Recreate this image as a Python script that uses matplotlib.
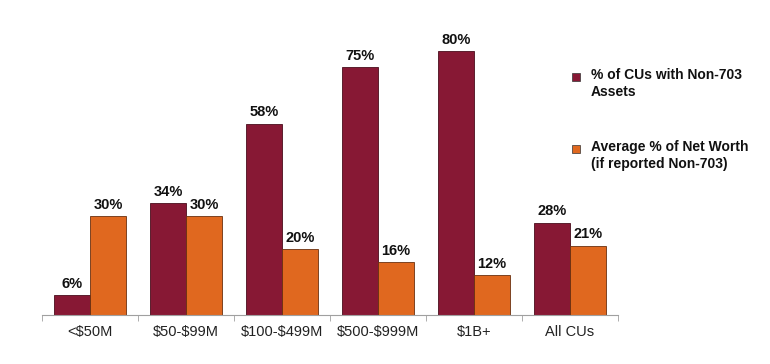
import numpy as np
import matplotlib.pyplot as plt
from matplotlib.patches import Rectangle

plt.rcParams['font.family'] = ['Liberation Sans', 'DejaVu Sans']
plt.rcParams['text.parse_math'] = False

categories = ['<$50M', '$50-$99M', '$100-$499M', '$500-$999M', '$1B+', 'All CUs']
pct_non703 = [6, 34, 58, 75, 80, 28]
avg_net_worth = [30, 30, 20, 16, 12, 21]
series_names = ['% of CUs with Non-703\nAssets', 'Average % of Net Worth\n(if reported Non-703)']

c1 = '#871834'
c2 = '#E0681F'

fig = plt.figure(figsize=(7.7, 3.64), dpi=100)
ax = fig.add_axes([0.0545, 0.1346, 0.748, 0.816])

x = np.arange(len(categories))
w = 0.375
b1 = ax.bar(x - w / 2, pct_non703, w, color=c1, edgecolor='#4a0d1c', linewidth=0.6)
b2 = ax.bar(x + w / 2, avg_net_worth, w, color=c2, edgecolor='#6a3010', linewidth=0.6)

for bars, vals in [(b1, pct_non703), (b2, avg_net_worth)]:
    for r, v in zip(bars, vals):
        ax.text(r.get_x() + r.get_width() / 2, v + 1.3, f'{v}%', ha='center', va='bottom',
                fontsize=10.5, fontweight='bold', color='#111111')

ax.set_xlim(-0.5, len(categories) - 0.5)
ax.set_ylim(0, 90)
ax.set_yticks([])
for s in ['top', 'right', 'left']:
    ax.spines[s].set_visible(False)
ax.spines['bottom'].set_color('#a0a0a0')
ax.set_xticks(x)
ax.set_xticklabels(categories, fontsize=10.5, color='#222222')
ax.tick_params(axis='x', length=0, pad=7)
ax.set_xticks(np.arange(len(categories) + 1) - 0.5, minor=True)
ax.tick_params(axis='x', which='minor', length=4, color='#a0a0a0')

# legend
for i, (name, col) in enumerate(zip(series_names, [c1, c2])):
    ytop = 1 - (68 + i * 72) / 364
    fig.patches.append(Rectangle((572 / 770, ytop - 13 / 364), 8 / 770, 8 / 364,
                                 transform=fig.transFigure, facecolor=col,
                                 edgecolor='#333333', linewidth=0.5))
    fig.text(591 / 770, ytop, name, ha='left', va='top', fontsize=10,
             fontweight='bold', color='#111111', linespacing=1.25)

fig.savefig('out.png', dpi=100)
